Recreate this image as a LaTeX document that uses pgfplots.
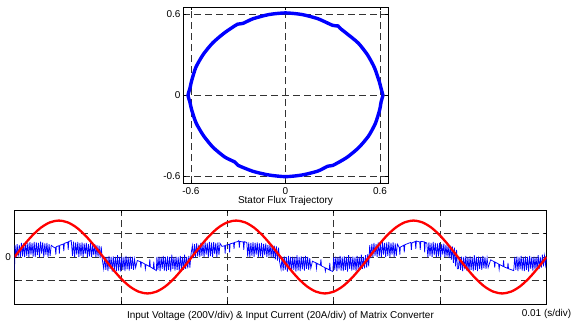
\documentclass[border=0pt]{standalone}
\usepackage{pgfplots}
\pgfplotsset{compat=1.18}
\usepackage{fontspec}
\setmainfont{Liberation Sans}
\begin{document}
\fontsize{10}{12}\selectfont
\begin{tikzpicture}
\path[use as bounding box] (0bp,0bp) rectangle (579bp,-323bp);
\pgfplotsset{
  mystyle/.style={
    scale only axis,
    grid=major,
    major grid style={black!80, dash pattern=on 7bp off 4bp, line width=0.6bp},
    tick align=inside, major tick length=3bp,
    tick style={black, line width=0.5bp},
    axis line style={black, line width=0.8bp},
    ticklabel style={font=\fontsize{10}{12}\selectfont},
    label style={font=\fontsize{10}{12}\selectfont},
  }
}
\begin{axis}[mystyle,
  at={(183bp,-7.5bp)}, anchor=north west,
  width=205bp, height=175.5bp,
  xmin=-0.65, xmax=0.65, ymin=-0.65, ymax=0.65,
  xtick={-0.6,0,0.6}, ytick={-0.6,0,0.6},
  xticklabels={-0.6,0,0.6}, yticklabels={-0.6,0,0.6},
  xticklabel style={yshift=-1.5bp},
  yticklabel style={xshift=1bp},
  xlabel={Stator Flux Trajectory},
  xlabel style={at={(axis description cs:0.5,0)}, anchor=north, yshift=-13bp, inner sep=0pt},
]
\addplot[blue, line width=3.4bp, smooth, tension=0.4] coordinates {
(0.618,0) (0.6057,0.0530) (0.5938,0.1047) (0.5638,0.2052) (0.5196,0.3000)
(0.4611,0.3870) (0.3857,0.4596) (0.3470,0.4956) (0.3333,0.5133) (0.2990,0.5179)
(0.2062,0.5666) (0.1054,0.5978) (0,0.610) (-0.1054,0.5978) (-0.2062,0.5666)
(-0.2710,0.5319) (-0.3040,0.5265) (-0.3876,0.4619) (-0.4619,0.3876) (-0.5222,0.3015)
(-0.5685,0.2069) (-0.5958,0.1051) (-0.6057,0.0530) (-0.618,0) (-0.6057,-0.0530)
(-0.5958,-0.1051) (-0.5666,-0.2062) (-0.5196,-0.3000) (-0.4596,-0.3857) (-0.3844,-0.4581)
(-0.3213,-0.4948) (-0.3000,-0.5196) (-0.2052,-0.5638) (-0.1042,-0.5909) (0,-0.603)
(0.1042,-0.5909) (0.2045,-0.5619) (0.2679,-0.5257) (0.3000,-0.5196) (0.3876,-0.4619)
(0.4634,-0.3889) (0.5257,-0.3035) (0.5704,-0.2076) (0.5978,-0.1054) (0.6057,-0.0530)
(0.618,0)
};
\end{axis}
\begin{axis}[mystyle, name=bot,
  at={(14.5bp,-210bp)}, anchor=north west,
  width=532bp, height=94bp,
  xmin=0, xmax=60, ymin=-2, ymax=2,
  xtick={12,24,36,48}, xticklabels={},
  ytick={-1,0,1}, yticklabels={,0,},
  xlabel={Input Voltage (200V/div) \& Input Current (20A/div) of Matrix Converter},
  xlabel style={at={(axis description cs:0.5,0)}, anchor=north, yshift=-7bp, inner sep=0pt},
]
\addplot[blue, line width=0.75bp] coordinates {
(0,-0.55) (0.06,0.50) (0.18,0.00) (0.30,0.55) (0.42,0.02) (0.54,0.52) (0.66,0.00) (0.78,0.60) (0.90,0.03) (1.02,0.58) (1.14,0.00) (1.26,0.62) (1.38,0.05) (1.50,0.60) (1.62,0.00) (1.74,0.63) (1.86,0.10) (1.98,0.60) (2.10,0.02) (2.22,0.64) (2.34,0.00) (2.46,0.62) (2.58,0.08) (2.70,0.60) (2.82,0.00) (2.94,0.65) (3.06,0.15) (3.18,0.62) (3.30,0.00) (3.42,0.58) (3.54,0.10) (3.66,0.60) (3.78,0.00) (3.90,0.55) (4.02,0.05) (4.14,0.50)
(4.40,0.42) (4.60,0.40) (4.66,0.10) (4.72,0.44) (5.00,0.48) (5.06,0.15) (5.12,0.50) (5.50,0.55) (5.56,0.25) (5.62,0.58) (6.00,0.63) (6.06,0.30) (6.12,0.66) (6.40,0.70)
(6.54,0.05) (6.66,0.65) (6.78,0.00) (6.90,0.62) (7.02,0.10) (7.14,0.64) (7.26,0.00) (7.38,0.60) (7.50,0.05) (7.62,0.62) (7.74,0.00) (7.86,0.58) (7.98,0.12) (8.10,0.60) (8.22,0.00) (8.34,0.55) (8.46,0.03) (8.58,0.60) (8.70,0.00) (8.82,0.52) (8.94,0.08) (9.06,0.55) (9.18,0.00) (9.30,0.50) (9.42,0.02) (9.54,0.48) (9.66,-0.05) (9.78,0.45) (9.90,-0.10)
(10.06,-0.50) (10.18,0.02) (10.30,-0.55) (10.42,0.00) (10.54,-0.60) (10.66,0.05) (10.78,-0.50) (10.90,0.00) (11.02,-0.62) (11.14,0.03) (11.26,-0.55) (11.38,0.00) (11.50,-0.60) (11.62,0.08) (11.74,-0.58) (11.86,0.00) (11.98,-0.62) (12.10,0.02) (12.22,-0.55) (12.34,0.00) (12.46,-0.60) (12.58,0.05) (12.70,-0.52) (12.82,0.00) (12.94,-0.58) (13.06,0.02) (13.18,-0.50) (13.30,0.00) (13.42,-0.55) (13.54,-0.10) (13.66,-0.45)
(13.85,-0.15) (14.20,-0.20) (14.26,-0.45) (14.32,-0.22) (14.70,-0.30) (14.76,-0.50) (14.82,-0.32) (15.20,-0.40) (15.26,-0.10) (15.32,-0.42) (15.65,-0.50) (15.71,-0.20) (15.77,-0.52) (16.00,-0.58)
(16.06,0.00) (16.18,-0.55) (16.30,0.02) (16.42,-0.60) (16.54,0.00) (16.66,-0.50) (16.78,0.05) (16.90,-0.58) (17.02,0.00) (17.14,-0.60) (17.26,0.03) (17.38,-0.55) (17.50,0.00) (17.62,-0.62) (17.74,0.10) (17.86,-0.50) (17.98,0.00) (18.10,-0.58) (18.22,0.02) (18.34,-0.55) (18.46,0.00) (18.58,-0.60) (18.70,0.05) (18.82,-0.52) (18.94,0.00) (19.06,-0.55) (19.18,0.10) (19.30,-0.50) (19.42,0.00) (19.54,-0.48) (19.66,0.05) (19.78,-0.45) (19.90,0.10)
(20.06,0.48) (20.18,-0.05) (20.30,0.55) (20.42,0.00) (20.54,0.58) (20.66,0.03) (20.78,0.52) (20.90,0.00) (21.02,0.60) (21.14,0.05) (21.26,0.57) (21.38,0.00) (21.50,0.62) (21.62,0.10) (21.74,0.60) (21.86,0.00) (21.98,0.64) (22.10,0.04) (22.22,0.61) (22.34,0.00) (22.46,0.63) (22.58,0.12) (22.70,0.60) (22.82,0.00) (22.94,0.62) (23.06,0.08) (23.18,0.58)
(23.40,0.45) (23.70,0.48) (23.76,0.15) (23.82,0.50) (24.20,0.54) (24.26,0.20) (24.32,0.56) (24.70,0.60) (24.76,0.35) (24.82,0.62) (25.20,0.66) (25.30,0.70) (25.36,0.40) (25.42,0.66) (25.80,0.64) (25.86,0.30) (25.92,0.65) (26.20,0.62)
(26.30,0.02) (26.42,0.62) (26.54,0.00) (26.66,0.60) (26.78,0.05) (26.90,0.63) (27.02,0.00) (27.14,0.60) (27.26,0.10) (27.38,0.62) (27.50,0.00) (27.62,0.58) (27.74,0.03) (27.86,0.60) (27.98,0.00) (28.10,0.56) (28.22,0.08) (28.34,0.58) (28.46,0.00) (28.58,0.52) (28.70,0.02) (28.82,0.55) (28.94,0.00) (29.06,0.50) (29.18,-0.05) (29.30,0.48) (29.42,-0.10) (29.54,0.45) (29.66,-0.15) (29.78,0.40) (29.90,-0.20)
(30.06,-0.52) (30.18,0.00) (30.30,-0.58) (30.42,0.03) (30.54,-0.55) (30.66,0.00) (30.78,-0.62) (30.90,0.05) (31.02,-0.50) (31.14,0.00) (31.26,-0.60) (31.38,0.02) (31.50,-0.55) (31.62,0.00) (31.74,-0.62) (31.86,0.08) (31.98,-0.58) (32.10,0.00) (32.22,-0.60) (32.34,0.03) (32.46,-0.52) (32.58,0.00) (32.70,-0.58) (32.82,0.05) (32.94,-0.50) (33.06,0.00) (33.18,-0.55) (33.30,-0.05) (33.42,-0.48)
(33.60,-0.18) (34.00,-0.25) (34.06,-0.48) (34.12,-0.27) (34.50,-0.35) (34.56,-0.10) (34.62,-0.38) (35.00,-0.45) (35.06,-0.60) (35.12,-0.47) (35.50,-0.55) (35.56,-0.25) (35.62,-0.57) (35.90,-0.62)
(36.00,0.00) (36.12,-0.55) (36.24,0.02) (36.36,-0.60) (36.48,0.00) (36.60,-0.52) (36.72,0.05) (36.84,-0.58) (36.96,0.00) (37.08,-0.60) (37.20,0.03) (37.32,-0.55) (37.44,0.00) (37.56,-0.62) (37.68,0.08) (37.80,-0.50) (37.92,0.00) (38.04,-0.58) (38.16,0.02) (38.28,-0.55) (38.40,0.00) (38.52,-0.60) (38.64,0.05) (38.76,-0.52) (38.88,0.00) (39.00,-0.55) (39.12,0.10) (39.24,-0.50) (39.36,0.00) (39.48,-0.48) (39.60,0.08) (39.72,-0.45) (39.84,0.12) (39.95,-0.40)
(40.06,0.50) (40.18,-0.05) (40.30,0.56) (40.42,0.00) (40.54,0.60) (40.66,0.05) (40.78,0.55) (40.90,0.00) (41.02,0.62) (41.14,0.03) (41.26,0.58) (41.38,0.00) (41.50,0.63) (41.62,0.10) (41.74,0.60) (41.86,0.00) (41.98,0.62) (42.10,0.05) (42.22,0.64) (42.34,0.00) (42.46,0.60) (42.58,0.10) (42.70,0.62) (42.82,0.00) (42.94,0.58) (43.06,0.05) (43.18,0.55)
(43.40,0.40) (43.46,0.10) (43.52,0.42) (43.90,0.50) (43.96,0.20) (44.02,0.52) (44.40,0.58) (44.70,0.62) (44.76,0.30) (44.82,0.60) (45.20,0.66) (45.26,0.35) (45.32,0.68) (45.70,0.64) (45.76,0.30) (45.82,0.66) (46.20,0.65) (46.26,0.20) (46.32,0.62) (46.50,0.60)
(46.62,0.00) (46.74,0.62) (46.86,0.05) (46.98,0.60) (47.10,0.00) (47.22,0.64) (47.34,0.08) (47.46,0.60) (47.58,0.00) (47.70,0.58) (47.82,0.03) (47.94,0.60) (48.06,0.00) (48.18,0.55) (48.30,0.10) (48.42,0.57) (48.54,0.00) (48.66,0.52) (48.78,0.02) (48.90,0.50) (49.02,-0.05) (49.14,0.48) (49.26,-0.12) (49.38,0.45) (49.50,-0.25) (49.62,0.40) (49.74,-0.40) (49.86,0.30) (49.95,-0.50)
(50.06,-0.50) (50.18,0.00) (50.30,-0.55) (50.42,0.02) (50.54,-0.60) (50.66,0.00) (50.78,-0.52) (50.90,0.05) (51.02,-0.58) (51.14,0.00) (51.26,-0.62) (51.38,0.03) (51.50,-0.55) (51.62,0.00) (51.74,-0.60) (51.86,0.08) (51.98,-0.55) (52.10,0.00) (52.22,-0.60) (52.34,0.02) (52.46,-0.50) (52.58,0.00) (52.70,-0.55) (52.82,0.05) (52.94,-0.48) (53.06,0.00) (53.18,-0.50) (53.30,-0.05) (53.42,-0.45)
(53.70,-0.12) (54.10,-0.20) (54.16,-0.45) (54.22,-0.22) (54.60,-0.30) (54.66,-0.52) (54.72,-0.32) (55.10,-0.40) (55.16,-0.15) (55.22,-0.42) (55.60,-0.48) (55.66,-0.25) (55.72,-0.50) (56.10,-0.55) (56.30,-0.58)
(56.42,0.00) (56.54,-0.55) (56.66,0.02) (56.78,-0.60) (56.90,0.00) (57.02,-0.52) (57.14,0.05) (57.26,-0.58) (57.38,0.00) (57.50,-0.60) (57.62,0.03) (57.74,-0.55) (57.86,0.00) (57.98,-0.62) (58.10,0.05) (58.22,-0.50) (58.34,0.00) (58.46,-0.58) (58.58,0.02) (58.70,-0.52) (58.82,0.00) (58.94,-0.55) (59.06,0.08) (59.18,-0.50) (59.30,0.00) (59.42,-0.45) (59.54,0.10) (59.66,-0.40) (59.78,0.05) (59.90,-0.35) (60.00,0.00)
};
\addplot[red, line width=2.3bp, smooth] coordinates {
(0,0) (1,0.479) (2,0.911) (3,1.254) (4,1.474) (5,1.55) (6,1.474) (7,1.254) (8,0.911) (9,0.479)
(10,0) (11,-0.479) (12,-0.911) (13,-1.254) (14,-1.474) (15,-1.55) (16,-1.474) (17,-1.254) (18,-0.911) (19,-0.479)
(20,0) (21,0.479) (22,0.911) (23,1.254) (24,1.474) (25,1.55) (26,1.474) (27,1.254) (28,0.911) (29,0.479)
(30,0) (31,-0.479) (32,-0.911) (33,-1.254) (34,-1.474) (35,-1.55) (36,-1.474) (37,-1.254) (38,-0.911) (39,-0.479)
(40,0) (41,0.479) (42,0.911) (43,1.254) (44,1.474) (45,1.55) (46,1.474) (47,1.254) (48,0.911) (49,0.479)
(50,0) (51,-0.479) (52,-0.911) (53,-1.254) (54,-1.474) (55,-1.55) (56,-1.474) (57,-1.254) (58,-0.911) (59,-0.479)
(60,0)
};
\end{axis}
\node[anchor=north, inner sep=0pt] at ([yshift=-5bp]bot.south east) {0.01 (s/div)};
\end{tikzpicture}
\end{document}
